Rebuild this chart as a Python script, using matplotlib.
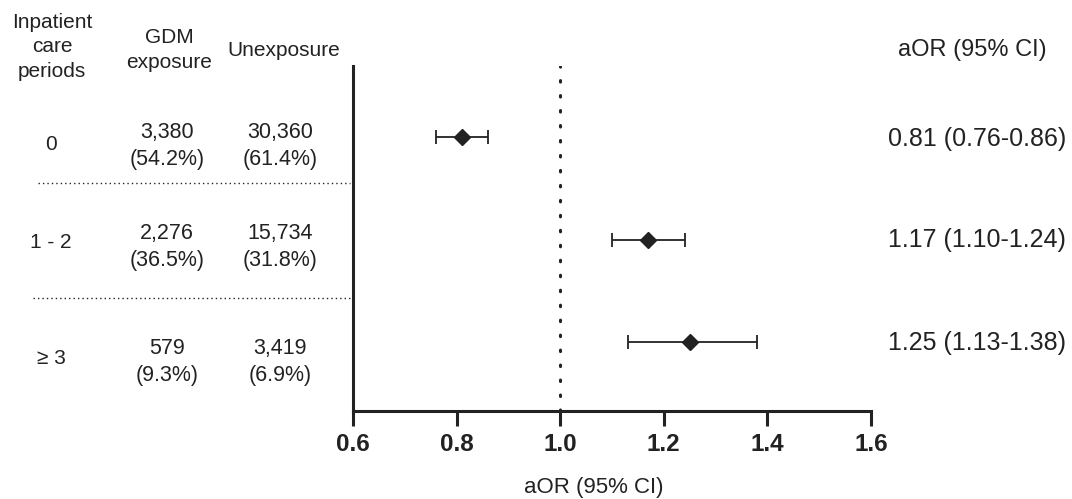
import matplotlib.pyplot as plt
from matplotlib.lines import Line2D

plt.rcParams['font.family'] = ['Liberation Sans', 'DejaVu Sans']

# data
periods = ['0', '1 - 2', '\u2265 3']
gdm_n = ['3,380', '2,276', '579']
gdm_pct = ['(54.2%)', '(36.5%)', '(9.3%)']
unexp_n = ['30,360', '15,734', '3,419']
unexp_pct = ['(61.4%)', '(31.8%)', '(6.9%)']
aor = [0.81, 1.17, 1.25]
ci_low = [0.76, 1.10, 1.13]
ci_high = [0.86, 1.24, 1.38]
aor_labels = ['0.81 (0.76-0.86)', '1.17 (1.10-1.24)', '1.25 (1.13-1.38)']
xticks = [0.6, 0.8, 1.0, 1.2, 1.4, 1.6]

W, H = 1072, 499
ink = '#222222'

fig = plt.figure(figsize=(W / 100, H / 100), dpi=100)
ax = fig.add_axes([353 / W, 1 - 411 / H, (871 - 353) / W, (411 - 66) / H])

rows = list(range(len(aor)))
err = [[a - l for a, l in zip(aor, ci_low)], [h - a for a, h in zip(aor, ci_high)]]
ax.errorbar(aor, rows, xerr=err, fmt='D', color=ink, ms=8.5, elinewidth=1.3,
            capsize=4.8, capthick=1.3, zorder=3)
ax.axvline(1.0, color=ink, lw=2.2, linestyle=(0, (0.5, 4.4)), dash_capstyle='round')

ax.set_xlim(0.6, 1.6)
ax.set_ylim(2.673, -0.693)
ax.set_xticks(xticks)
ax.set_xticklabels([f'{t:.1f}' for t in xticks], fontsize=17.5, fontweight='bold', color=ink)
ax.set_yticks([])
for s in ['top', 'right']:
    ax.spines[s].set_visible(False)
for s in ['left', 'bottom']:
    ax.spines[s].set_linewidth(2.2)
    ax.spines[s].set_color(ink)
ax.tick_params(axis='x', length=11, width=2.2, color=ink, pad=5)
ax.set_xlabel('aOR (95% CI)', fontsize=16, color=ink, labelpad=15, x=0.465)


def ftext(x, y, s, size=15, ha='center'):
    fig.text(x / W, 1 - y / H, s, fontsize=size, ha=ha, va='center', color=ink,
             linespacing=1.38)


# column headers
ftext(52, 47, 'Inpatient\ncare\nperiods')
ftext(169, 50, 'GDM\nexposure')
ftext(284, 51, 'Unexposure')
ftext(972, 50, 'aOR (95% CI)', size=17)

# table rows
label_y = [145, 243, 358]
num_y = [146, 247, 362]
val_y = [139, 240, 343]
for i in rows:
    ftext(51, label_y[i], periods[i])
    ftext(167, num_y[i], gdm_n[i] + '\n' + gdm_pct[i], size=15.5)
    ftext(280, num_y[i], unexp_n[i] + '\n' + unexp_pct[i], size=15.5)
    ftext(1066, val_y[i], aor_labels[i], size=18, ha='right')

# dotted separators
for y, x0 in [(183, 38), (298, 33)]:
    fig.add_artist(Line2D([x0 / W, 350 / W], [1 - y / H, 1 - y / H], color=ink,
                          lw=1.0, linestyle=(0, (1, 2.2))))

fig.savefig('out.png', dpi=100)
